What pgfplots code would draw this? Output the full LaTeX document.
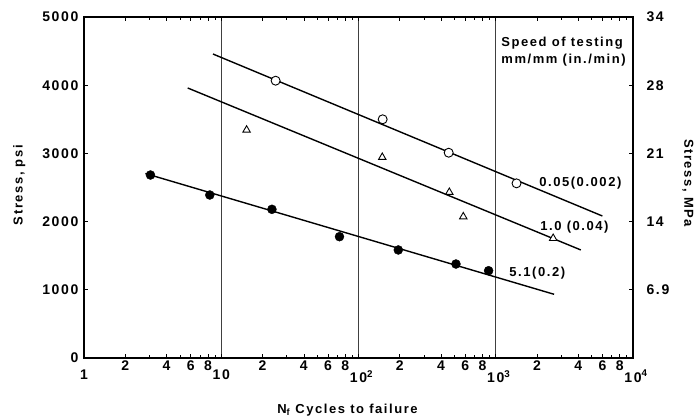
\documentclass[border=0pt]{standalone}
\usepackage{fontspec}
\setmainfont{Liberation Sans}[LetterSpace=12]
\usepackage{pgfplots}
\pgfplotsset{compat=1.18}
\tikzset{lbl/.style={font=\fontsize{13}{17}\selectfont\bfseries},
  tlbl/.style={font=\fontsize{14}{17}\selectfont\bfseries}}
\begin{document}
\begin{tikzpicture}
\begin{axis}[name=ax, scale only axis, width=549pt, height=341pt,
  xmode=log, xmin=1, xmax=10000, ymin=0, ymax=5000,
  clip=false,
  axis line style={line width=1.6pt},
  tick align=inside,
  tick style={line width=0.7pt, black},
  major tick length=4pt,
  xtick={1,10,100,1000,10000},
  xticklabels={1,10,10\rlap{\textsuperscript{2}},10\rlap{\textsuperscript{3}},10\rlap{\textsuperscript{4}}},
  minor xtick={},
  xmajorgrids=true,
  major grid style={line width=0.7pt, black!75},
  x tick label style={tlbl, yshift=-11pt, inner sep=1pt},
  extra x ticks={2,4,6,8,20,40,60,80,200,400,600,800,2000,4000,6000,8000},
  extra x tick labels={2,4,6,8,2,4,6,8,2,4,6,8,2,4,6,8},
  extra x tick style={grid=none, x tick label style={yshift=9pt}},
  ytick={0,1000,2000,3000,4000,5000},
  yticklabels={0,1000,2000,3000,4000,5000},
  y tick label style={tlbl, xshift=-2pt},
]
% fitted lines
\addplot[black, line width=1.4pt] coordinates {(8.71,4457) (5984,2082)};
\addplot[black, line width=1.4pt] coordinates {(5.70,3959) (4169,1584)};
\addplot[black, line width=1.4pt] coordinates {(2.8,2705) (2661,934)};
% data: 0.05 mm/mm (open circles)
\addplot[only marks, mark=*, mark size=4.5pt, mark options={fill=white, draw=black, line width=0.9pt}]
  coordinates {(24.9,4066) (150,3500) (454,3010) (1417,2561)};
% data: 1.0 mm/mm (open triangles)
\addplot[only marks, mark=triangle*, mark size=4.3pt, mark options={fill=white, draw=black, line width=0.9pt}]
  coordinates {(15.3,3343) (149,2943) (459,2430) (580,2072) (2620,1755)};
% data: 5.1 mm/mm (filled circles)
\addplot[only marks, mark=*, mark size=4.5pt, mark options={fill=black, draw=black}]
  coordinates {(3.05,2683) (8.25,2390) (23.4,2180) (72.7,1779) (195,1584) (513,1378) (887,1280)};
% annotations
\node[lbl, anchor=west, inner sep=0] at (axis cs:2070,2570) {0.05(0.002)};
\node[lbl, anchor=west, inner sep=0] at (axis cs:2108,1921) {1.0 (0.04)};
\node[lbl, anchor=west, inner sep=0] at (axis cs:1254,1246) {5.1(0.2)};
\node[lbl, anchor=north west, align=left, inner sep=0] at (axis cs:1096,4707) {Speed of testing\\mm/mm (in./min)};
\node[lbl, rotate=90] at (rel axis cs:-0.118,0.507) {Stress, psi};
\node[lbl, rotate=-90] at (rel axis cs:1.100,0.513) {Stress, MPa};
\node[lbl] at (rel axis cs:0.48,-0.152) {N\textsubscript{f} Cycles to failure};
\end{axis}
\begin{axis}[scale only axis, width=549pt, height=341pt,
  xmode=log, xmin=1, xmax=10000, ymin=0, ymax=5000,
  hide x axis, axis y line*=right,
  axis line style={draw=none},
  major tick length=0pt,
  ytick={1000,2000,3000,4000,5000},
  yticklabels={6.9,14,21,28,34},
  y tick label style={tlbl, xshift=10pt},
]
\end{axis}
\pgfresetboundingbox
\path ([shift={(-84pt,-62pt)}]ax.south west) rectangle ([shift={(61pt,17pt)}]ax.north east);
\end{tikzpicture}
\end{document}
